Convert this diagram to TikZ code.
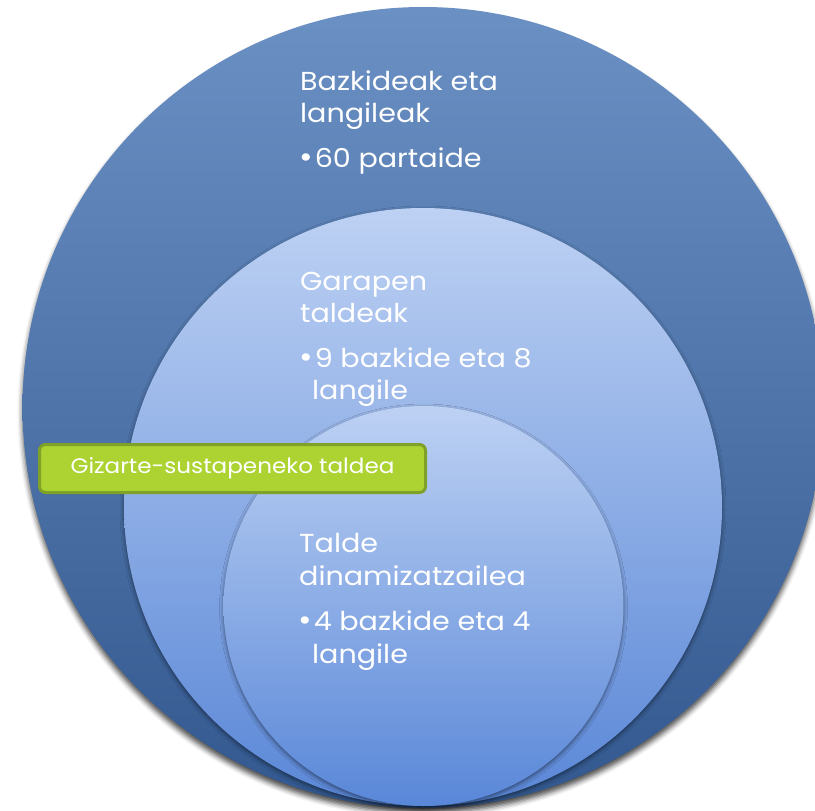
\documentclass[tikz,border=0pt]{standalone}
\usepackage{fontspec}
\setmainfont[FakeStretch=1.1]{Poppins}
\usetikzlibrary{shadows.blur}
\definecolor{outerTop}{HTML}{6A90C4}
\definecolor{outerBot}{HTML}{32588F}
\definecolor{midTop}{HTML}{BDD1F3}
\definecolor{midBot}{HTML}{5A87D7}
\definecolor{innTop}{HTML}{BDD1F3}
\definecolor{innBot}{HTML}{5987D8}
\definecolor{boxFill}{HTML}{ADD333}
\definecolor{boxLine}{HTML}{7FA128}
\tikzset{
  ring/.style={circle, inner sep=0pt, draw=none},
  lbl/.style={anchor=base west, inner sep=0pt, text=white, font=\fontsize{26}{30}\selectfont},
  tag/.style={rounded corners=6pt, fill=boxFill, draw=boxLine, line width=3pt, text=white,
    font=\fontsize{21}{24}\selectfont, minimum width=386pt, minimum height=48pt, inner sep=0pt}
}
\newcommand{\blt}{{\fontsize{30}{30}\selectfont •}\hspace{2pt}}
\begin{document}
\begin{tikzpicture}[x=1pt,y=-1pt]
\useasboundingbox (0,0) rectangle (815,811);
\clip (0,0) rectangle (815,811);
\node[ring, minimum size=801pt, top color=outerTop, bottom color=outerBot,
  blur shadow={shadow xshift=0pt, shadow yshift=-5pt, shadow blur radius=5pt, shadow opacity=70}] (outer) at (423,407.5) {};
\node[ring, minimum size=598pt, top color=midTop, bottom color=midBot,
  blur shadow={shadow xshift=0pt, shadow yshift=-2pt, shadow blur radius=4pt, shadow opacity=50}] (mid) at (423,507) {};
\node[ring, minimum size=400pt, top color=innTop, bottom color=innBot,
  blur shadow={shadow xshift=0pt, shadow yshift=-2pt, shadow blur radius=4pt, shadow opacity=50}] (inn) at (423.5,606) {};

\node[lbl] (o1) at (300,90) {Bazkideak eta};
\node[lbl] (o2) at (300,122) {langileak};
\node[lbl] (o3) at (299,167) {\blt 60 partaide};

\node[lbl] (m1) at (300,290) {Garapen};
\node[lbl] (m2) at (300,322) {taldeak};
\node[lbl] (m3) at (299,367) {\blt 9 bazkide eta 8};
\node[lbl] (m4) at (312,399) {langile};

\node[lbl] (i1) at (299,552) {Talde};
\node[lbl] (i2) at (299,585) {dinamizatzailea};
\node[lbl] (i3) at (298,630) {\blt 4 bazkide eta 4};
\node[lbl] (i4) at (312,663) {langile};

\node[tag] (box) at (232.5,468.5) {Gizarte-sustapeneko taldea};
\end{tikzpicture}
\end{document}
